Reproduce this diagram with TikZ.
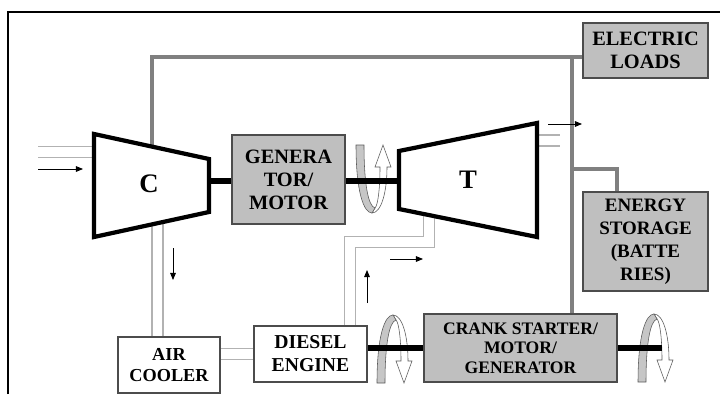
\documentclass[tikz,border=0pt]{standalone}
\usepackage{fontspec}
\setmainfont{Liberation Serif}
\usetikzlibrary{arrows.meta,backgrounds}

\begin{document}
\begin{tikzpicture}[x=0.025cm, y=-0.025cm,
    box/.style={draw=black!70, line width=0.9pt, fill=gray!50, inner sep=0pt, align=center,
      font=\bfseries\fontsize{14.5}{16.3}\selectfont},
    white box/.style={box, fill=white},
    machine/.style={draw=black, line width=3pt, fill=white, line join=miter},
    shaft/.style={draw=black, line width=4.5pt},
    power/.style={draw=gray, line width=2.2pt},
    pipe/.style={draw=gray!60, line width=0.9pt, double=white, double distance=7pt},
    flow/.style={draw=black, line width=0.6pt, -{Triangle[length=5pt,width=4pt]}}]
  \tikzset{spin/.pic={
      \draw[fill=white, draw=gray!70!black, line width=0.4pt]
        (0,0) .. controls (9,0) and (15,20) .. (15,46) -- (19,46) -- (11,68) -- (3,46) -- (8,46)
        .. controls (8,25) and (6,8) .. (3,5) -- cycle;
      \draw[fill=gray!45, draw=gray!70!black, line width=0.4pt]
        (-16,68) .. controls (-16,20) and (-8,0) .. (0,0) -- (3,5)
        .. controls (-4,7) and (-8,30) .. (-8,68) -- cycle;
    }}
  \useasboundingbox (0,0) rectangle (720,394);
  \draw[line width=1.7pt] (8,394) -- (8,12) -- (720,12);

  % boxes
  \node[box, minimum width=3.125cm, minimum height=1.375cm] (loads) at (645.5,50.5) {ELECTRIC\\LOADS};
  \node[box, minimum width=3.125cm, minimum height=2.475cm,
    font=\bfseries\fontsize{13.5}{16.3}\selectfont] (storage) at (645.5,241.5) {ENERGY\\STORAGE\\(BATTE\\RIES)};
  \node[box, minimum width=2.825cm, minimum height=2.225cm] (gen) at (288.5,179.5) {GENERA\\TOR/\\MOTOR};
  \node[white box, minimum width=2.55cm, minimum height=1.4cm,
    font=\bfseries\fontsize{13}{14.5}\selectfont] (cooler) at (169,365) {AIR\\COOLER};
  \node[white box, minimum width=2.825cm, minimum height=1.4cm,
    font=\bfseries\fontsize{14}{16.3}\selectfont] (diesel) at (310.5,354) {DIESEL\\ENGINE};
  \node[box, minimum width=4.825cm, minimum height=1.7cm,
    font=\bfseries\fontsize{12.5}{13.8}\selectfont] (crank) at (520.5,348) {CRANK STARTER/\\MOTOR/\\GENERATOR};

  % compressor and turbine
  \draw[machine] (94,134) -- (209,159) -- (209,212) -- (94,237) -- cycle;
  \draw[machine] (399,151) -- (537,123) -- (537,237) -- (399,209) -- cycle;
  \node[font=\bfseries\fontsize{19}{19}\selectfont] (cLabel) at (149,184) {C};
  \node[font=\bfseries\fontsize{19}{19}\selectfont] (tLabel) at (468,180) {T};
  \coordinate (cTop) at (152,147);
  \coordinate (cBot) at (157.5,222);
  \coordinate (cIn) at (94,152);
  \coordinate (cOut) at (209,181);
  \coordinate (tIn) at (399,181);
  \coordinate (tBot) at (429,214);
  \coordinate (tOut) at (537,140.5);
  \coordinate (bus) at (572,57);
  \coordinate (tap) at (572,169);
  \coordinate (sIn) at (617,192);
  \coordinate (shaftEnd) at (662,348);

  % shafts
  \draw[shaft] (cOut) -- (cOut -| gen.west);
  \draw[shaft] (gen.east |- tIn) -- (tIn);
  \draw[shaft] (crank.west -| diesel.east) -- (crank.west);
  \draw[shaft] (crank.east) -- (shaftEnd);

  \begin{scope}[on background layer]
    % gas and air pipes
    \draw[pipe] (38,152) -- (cIn);
    \draw[pipe] (tOut) -- (560,140.5);
    \draw[pipe] (cBot) -- (cBot |- cooler.north);
    \draw[pipe] (diesel.west -| cooler.east) -- (diesel.west);
    \draw[pipe] (diesel.north -| 350,0) |- (429,242) -- (tBot);
    % electric lines
    \draw[power] (cTop) |- (bus) -- (bus -| loads.west);
    \draw[power] (bus) -- (bus |- crank.north);
    \draw[power] (tap) -| (sIn);
    % flow directions
    \draw[flow] (38,169) -- (83,169);
    \draw[flow] (173,248) -- (173,280);
    \draw[flow] (367,303) -- (367,270);
    \draw[flow] (390,259) -- (423,259);
    \draw[flow] (548,124) -- (582,124);
    % rotation
    \pic[yscale=-1] at (372,213) {spin};
    \pic at (393,315) {spin};
    \pic at (654,314) {spin};
  \end{scope}
\end{tikzpicture}
\end{document}
